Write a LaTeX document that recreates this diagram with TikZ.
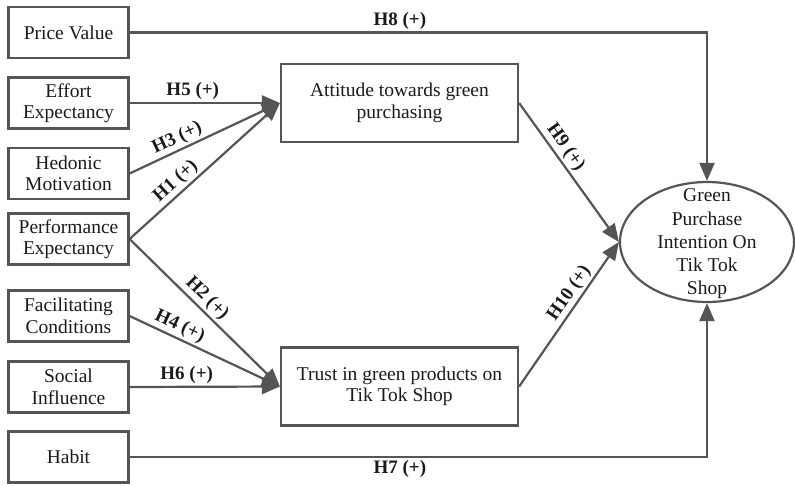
\documentclass[tikz,border=0pt]{standalone}
\usepackage{fontspec}
\setmainfont{Liberation Serif}
\usetikzlibrary{arrows.meta,shapes.geometric}
\definecolor{linegray}{HTML}{555555}
\definecolor{txt}{HTML}{1A1A1A}
\begin{document}
\begin{tikzpicture}[x=1pt,y=-1pt,
  box/.style={draw=linegray, line width=2.2pt, minimum width=120pt, minimum height=51pt,
    align=center, font=\fontsize{19.5}{21.5}\selectfont, text=txt, inner sep=0pt},
  bigbox/.style={box, minimum width=237pt, minimum height=78pt},
  arr/.style={draw=linegray, line width=2.2pt, -{Triangle[length=18pt,width=15pt]}},
  lab/.style={font=\bfseries\fontsize{19}{20}\selectfont, text=txt, inner sep=2pt}]
\useasboundingbox (0,0) rectangle (795,485);

\node[box] (pv) at (68.5,32.5) {Price Value};
\node[box] (ee) at (68.5,103) {Effort\\Expectancy};
\node[box] (hm) at (68.5,173.5) {Hedonic\\Motivation};
\node[box] (pe) at (68.5,239) {Performance\\Expectancy};
\node[box] (fc) at (68.5,316) {Facilitating\\Conditions};
\node[box] (si) at (68.5,387) {Social\\Influence};
\node[box] (hb) at (68.5,457) {Habit};

\node[bigbox] (att) at (399.5,103) {Attitude towards green\\purchasing};
\node[bigbox] (tr) at (399.5,386.5) {Trust in green products on\\Tik Tok Shop};

\node[draw=linegray, line width=2.2pt, ellipse, minimum width=174pt, minimum height=120pt, inner sep=0pt] (gpi) at (707,242) {};
\node[align=center, font=\fontsize{19.5}{23.3}\selectfont, text=txt, inner sep=0pt] (gpitext) at (707,244)
  {Green\\Purchase\\Intention On\\Tik Tok\\Shop};

\draw[arr] (pv.east) -| node[lab, pos=0.234, above] {H8 (+)} (gpi.north);
\draw[arr] (hb.east) -| node[lab, pos=0.234, below] {H7 (+)} (gpi.south);

\draw[arr] (ee.east) -- node[lab, pos=0.42, above] {H5 (+)} (att.west);
\draw[arr] (hm.east) -- node[lab, pos=0.35, above, sloped] {H3 (+)} (att.west);
\draw[arr] (pe.east) -- node[lab, pos=0.36, above, sloped] {H1 (+)} (att.west);

\draw[arr] (pe.east) -- node[lab, pos=0.46, above, sloped] {H2 (+)} (tr.west);
\draw[arr] (fc.east) -- node[lab, pos=0.30, above, sloped] {H4 (+)} (tr.west);
\draw[arr] (si.east) -- node[lab, pos=0.38, above] {H6 (+)} (tr.west);

\draw[arr] (att.east) -- node[lab, pos=0.37, above, sloped] {H9 (+)} (gpi.west);
\draw[arr] (tr.east) -- node[lab, pos=0.6, above, sloped] {H10 (+)} (gpi.west);
\end{tikzpicture}
\end{document}
